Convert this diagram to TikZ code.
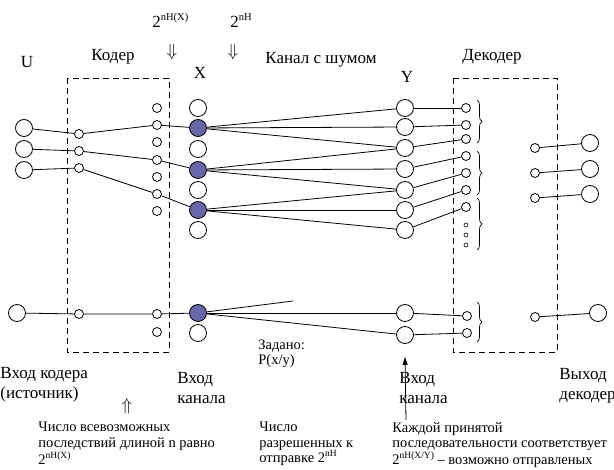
\documentclass[tikz,border=0pt]{standalone}
\usepackage{fontspec}
\setmainfont{Liberation Serif}
\usetikzlibrary{decorations.pathreplacing,arrows.meta}
\definecolor{xfill}{RGB}{102,102,168}
\newcommand{\supx}[1]{\raisebox{0.42em}{\fontsize{10.5}{10.5}\selectfont #1}}
\newcommand{\supsm}[1]{\raisebox{0.42em}{\fontsize{9.5}{9.5}\selectfont #1}}
\begin{document}
\begin{tikzpicture}[x=1pt,y=-1pt,line width=0.8pt,
  big/.style={circle,draw,minimum size=17pt,inner sep=0pt,fill=white},
  bigf/.style={big,fill=xfill},
  sm/.style={circle,draw,minimum size=9pt,inner sep=0pt,fill=white},
  tiny/.style={circle,draw,minimum size=4pt,inner sep=0pt,line width=0.6pt},
  lbl/.style={font=\fontsize{17}{19.5}\selectfont,inner sep=0pt,align=left},
  small/.style={font=\fontsize{14.5}{15.5}\selectfont,inner sep=0pt,align=left},
  dbl/.style={inner sep=0pt,font=\fontsize{18}{18}\selectfont},
  box/.style={draw,dash pattern=on 6pt off 4pt,line width=0.8pt},
  brc/.style={decorate,decoration={brace,amplitude=5pt},line width=0.7pt},
  arr/.style={-{Triangle[length=8pt,width=5pt]}}]
\useasboundingbox (0,0) rectangle (614,470);
% boxes
\draw[box] (67,78) rectangle (169,352);
\draw[box] (453,78) rectangle (557,352);
% U
\node[big] (u1) at (24,128) {};
\node[big] (u2) at (24,149) {};
\node[big] (u3) at (24,170) {};
\node[big] (u4) at (17,313) {};
% coder left
\node[sm] (cl1) at (79,134) {};
\node[sm] (cl2) at (79,151) {};
\node[sm] (cl3) at (79,168) {};
\node[sm] (cl4) at (79,314) {};
% coder right
\foreach \i/\yy in {1/108,2/125,3/142,4/160,5/177,6/194,7/211,8/314,9/332}
  \node[sm] (cr\i) at (157,\yy) {};
% X
\foreach \i/\yy/\st in {1/108/big,2/128/bigf,3/149/big,4/170/bigf,5/190/big,6/210/bigf,7/230/big,8/313/bigf,9/333/big}
  \node[\st] (x\i) at (198,\yy) {};
% Y
\foreach \i/\yy in {1/108,2/127,3/148,4/169,5/190,6/210,7/230,8/313,9/335}
  \node[big] (y\i) at (405,\yy) {};
% decoder inputs
\foreach \i/\yy in {1/108,2/125,3/139,4/156,5/173,6/190,7/207}
  \node[sm] (d\i) at (466,\yy) {};
\node[sm] (d8) at (467,316) {};
\node[sm] (d9) at (467,333) {};
\node[tiny] (t1) at (466,225) {};
\node[tiny] (t2) at (466,235) {};
\node[tiny] (t3) at (466,245) {};
% decoder outputs
\node[sm] (o1) at (535,148) {};
\node[sm] (o2) at (535,173) {};
\node[sm] (o3) at (535,198) {};
\node[sm] (o4) at (535,317) {};
\node[big] (p1) at (590,143) {};
\node[big] (p2) at (590,169) {};
\node[big] (p3) at (590,194) {};
\node[big] (p4) at (598,313) {};
\coordinate (free) at (293,301);
% connections
\draw (u1) -- (cl1) -- (cr2) -- (x2);
\draw (u2) -- (cl2) -- (cr4) -- (x4);
\draw (u3) -- (cl3) -- (cr6) -- (x6);
\draw (u4) -- (cl4) -- (cr8) -- (x8);
\draw (x2) -- (y1); \draw (x2) -- (y2); \draw (x2) -- (y3);
\draw (x4) -- (y3); \draw (x4) -- (y4); \draw (x4) -- (y5);
\draw (x6) -- (y5); \draw (x6) -- (y6); \draw (x6) -- (y7);
\draw (x8) -- (free); \draw (x8) -- (y8); \draw (x8) -- (y9);
\foreach \i in {1,...,9} \draw (y\i) -- (d\i);
\foreach \i in {1,...,4} \draw (o\i) -- (p\i);
% braces
\draw[brc] (477,100) -- (477,143);
\draw[brc] (477,151) -- (477,195);
\draw[brc] (477,198) -- (477,250);
\draw[brc] (477,302) -- (477,342);
% top labels
\node[lbl] (lu) at (27,62) {U};
\node[lbl] (lcoder) at (113,57) {Кодер};
\node[lbl] (lx) at (200,73) {X};
\node[lbl] (lchan) at (321,60) {Канал с шумом};
\node[lbl] (ly) at (407,77) {Y};
\node[lbl] (ldec) at (492,57) {Декодер};
\node[lbl,anchor=base west] (n1) at (152,28) {2\supx{nH(X)}};
\node[lbl,anchor=base west] (n2) at (230,28) {2\supx{nH}};
\node[dbl] (da1) at (172,52) {$\Downarrow$};
\node[dbl] (da2) at (233,52) {$\Downarrow$};
% bottom labels
\node[lbl,anchor=north west] (lin) at (0,367) {Вход кодера\\(источник)};
\node[lbl,anchor=north west] (lxin) at (177,372) {Вход\\канала};
\node[small,anchor=north west] (lgiven) at (258,339) {Задано:\\P(x/y)};
\node[lbl,anchor=north west] (lyin) at (399,372) {Вход\\канала};
\node[lbl,anchor=north west] (lout) at (559,368) {Выход\\декодера};
\node[dbl] (ua) at (127,406) {$\Uparrow$};
\node[small,anchor=north west] (t1txt) at (38,422) {Число всевозможных\\последствий длиной n равно\\2\supsm{nH(X)}};
\node[small,anchor=north west] (t2txt) at (259,422) {Число\\разрешенных к\\отправке 2\supsm{nH}};
\node[small,anchor=north west] (t3txt) at (392,422) {Каждой принятой\\последовательности соответствует\\2\supsm{nH(X/Y)} – возможно отправленых};
\coordinate (atail) at (406,420);
\draw[arr] (atail) -- ([yshift=-13pt]y9.south);
\end{tikzpicture}
\end{document}
